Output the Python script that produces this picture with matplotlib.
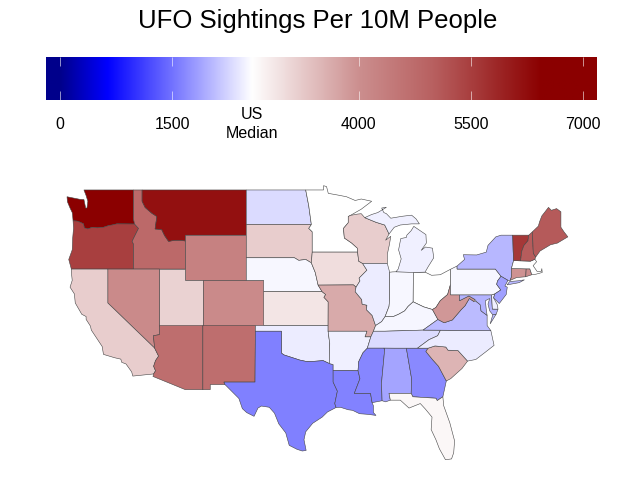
import numpy as np
import matplotlib
matplotlib.use('Agg')
import matplotlib.pyplot as plt
from matplotlib.colors import LinearSegmentedColormap, Normalize
from matplotlib.patches import Polygon

plt.rcParams['font.family'] = ['Liberation Sans', 'DejaVu Sans']

TICK_VALUES = [0, 1500, 4000, 5500, 7000]
TICK_LABELS = ['0', '1500', '4000', '5500', '7000']
US_MEDIAN = 2570
BAR_MIN, BAR_MAX = -187, 7190

# sightings per 10M people
VALUES = {
    'WA': 6600, 'OR': 5500, 'ID': 4800, 'MT': 6200, 'WY': 4300, 'CA': 3200, 'NV': 4100,
    'UT': 3150, 'CO': 4100, 'AZ': 4700, 'NM': 4700, 'ND': 2300, 'SD': 3200, 'NE': 2520,
    'KS': 2900, 'OK': 2430, 'TX': 1600, 'MN': 2570, 'IA': 3000, 'MO': 3650, 'AR': 2450,
    'LA': 1620, 'WI': 3200, 'IL': 2430, 'MI': 2450, 'IN': 2520, 'OH': 2570, 'KY': 2500,
    'TN': 2300, 'MS': 1650, 'AL': 1880, 'GA': 1680, 'FL': 2680, 'SC': 3530, 'NC': 2430,
    'VA': 2050, 'WV': 3900, 'PA': 2520, 'NY': 2020, 'VT': 5600, 'NH': 5050, 'ME': 5100,
    'MA': 2570, 'CT': 3950, 'RI': 4050, 'NJ': 1850, 'DE': 2450, 'MD': 2000,
}

# state outlines in lon/lat
OUTLINES = {
    'WA': [[(-124.7,48.4),(-123.2,48.17),(-122.75,48.15),(-122.55,47.4),(-122.4,47.4),(-122.3,48.0),(-122.5,48.5),(-122.75,49),(-117.03,49),(-117.04,46.42),(-116.92,45.99),(-118.98,46.0),(-119.3,45.93),(-119.9,45.85),(-120.5,45.7),(-121.2,45.65),(-121.8,45.7),(-122.3,45.55),(-122.7,45.65),(-122.8,46.0),(-123.2,46.15),(-123.55,46.25),(-124.0,46.27),(-124.05,46.7),(-124.1,47.0),(-124.35,47.4),(-124.65,47.95)]],
    'OR': [[(-124.0,46.27),(-123.55,46.25),(-123.2,46.15),(-122.8,46.0),(-122.7,45.65),(-122.3,45.55),(-121.8,45.7),(-121.2,45.65),(-120.5,45.7),(-119.9,45.85),(-119.3,45.93),(-118.98,46.0),(-116.92,45.99),(-116.7,45.8),(-116.46,45.6),(-116.85,45.0),(-117.2,44.45),(-117.03,44.2),(-117.03,42.0),(-124.2,42.0),(-124.5,42.85),(-124.1,43.7),(-124.05,44.7),(-123.95,45.6)]],
    'ID': [[(-117.03,49),(-116.05,49),(-116.05,48.0),(-115.7,47.45),(-114.95,46.95),(-114.35,46.65),(-114.55,45.55),(-113.8,45.5),(-113.45,44.95),(-113.0,44.45),(-112.3,44.55),(-111.5,44.55),(-111.05,44.48),(-111.05,42.0),(-117.03,42.0),(-117.03,44.2),(-117.2,44.45),(-116.85,45.0),(-116.46,45.6),(-116.7,45.8),(-116.92,45.99),(-117.04,46.42)]],
    'MT': [[(-116.05,49),(-104.05,49),(-104.05,45),(-111.05,45),(-111.05,44.48),(-111.5,44.55),(-112.3,44.55),(-113.0,44.45),(-113.45,44.95),(-113.8,45.5),(-114.55,45.55),(-114.35,46.65),(-114.95,46.95),(-115.7,47.45),(-116.05,48.0)]],
    'WY': [[(-111.05,45),(-104.05,45),(-104.05,41),(-111.05,41)]],
    'UT': [[(-114.05,42),(-111.05,42),(-111.05,41),(-109.05,41),(-109.05,37),(-114.05,37)]],
    'CO': [[(-109.05,41),(-102.05,41),(-102.05,37),(-109.05,37)]],
    'NV': [[(-120,42),(-114.05,42),(-114.05,36.2),(-114.75,36.1),(-114.6,35.0),(-120,39)]],
    'CA': [[(-124.2,42),(-120,42),(-120,39),(-114.6,35.0),(-114.15,34.3),(-114.5,33.9),(-114.72,33.4),(-114.5,33.0),(-114.72,32.72),(-117.12,32.53),(-117.25,32.9),(-117.9,33.6),(-118.4,33.75),(-118.5,34.03),(-119.2,34.15),(-120.5,34.45),(-120.65,35.15),(-121.9,36.6),(-122.0,36.95),(-122.5,37.55),(-122.5,37.8),(-123.0,38.0),(-123.75,39.0),(-123.85,39.8),(-124.35,40.4),(-124.1,41.0),(-124.2,41.75)]],
    'AZ': [[(-114.05,37),(-109.05,37),(-109.05,31.33),(-111.07,31.33),(-114.8,32.5),(-114.72,32.72),(-114.5,33.0),(-114.72,33.4),(-114.5,33.9),(-114.15,34.3),(-114.6,35.0),(-114.75,36.1),(-114.05,36.2)]],
    'NM': [[(-109.05,37),(-103,37),(-103.04,32),(-106.62,32),(-106.5,31.78),(-108.2,31.78),(-108.2,31.33),(-109.05,31.33)]],
    'ND': [[(-104.05,49),(-97.2,49),(-96.85,47.6),(-96.55,45.94),(-104.05,45.94)]],
    'SD': [[(-104.05,45.94),(-96.55,45.94),(-96.85,45.6),(-96.45,45.3),(-96.45,43.5),(-96.55,42.55),(-97.2,42.85),(-98.0,42.77),(-98.5,43.0),(-104.05,43)]],
    'NE': [[(-104.05,43),(-98.5,43),(-98,42.77),(-97.2,42.85),(-96.55,42.55),(-96.1,41.7),(-95.77,40.58),(-95.31,40),(-102.05,40),(-102.05,41),(-104.05,41)]],
    'KS': [[(-102.05,40),(-95.31,40),(-94.9,39.75),(-95.1,39.5),(-94.61,39.1),(-94.62,37),(-102.05,37)]],
    'OK': [[(-103,37),(-94.62,37),(-94.62,36.5),(-94.43,35.4),(-94.48,33.64),(-95.2,33.9),(-96.0,33.85),(-97.0,33.8),(-97.9,33.95),(-98.9,34.2),(-99.7,34.4),(-100,34.56),(-100,36.5),(-103,36.5)]],
    'TX': [[(-103,36.5),(-100,36.5),(-100,34.56),(-99.7,34.4),(-98.9,34.2),(-97.9,33.95),(-97,33.8),(-96,33.85),(-95.2,33.9),(-94.48,33.64),(-94.04,33.55),(-94.04,32.0),(-93.55,31.2),(-93.85,30.1),(-93.7,29.75),(-94.7,29.35),(-95.3,28.9),(-96.4,28.35),(-97.2,27.6),(-97.4,26.9),(-97.15,25.95),(-97.6,25.9),(-98.2,26.05),(-99.1,26.4),(-99.5,27.5),(-100.3,28.3),(-100.8,29.25),(-101.4,29.77),(-102.3,29.88),(-102.7,29.7),(-103.15,28.97),(-104.0,29.3),(-104.5,29.65),(-104.9,30.55),(-106.5,31.78),(-106.62,32),(-103.04,32)]],
    'MN': [[(-97.2,49),(-95.15,49),(-95.15,49.38),(-94.8,49.3),(-94.6,48.7),(-93.5,48.55),(-92.5,48.4),(-91.5,48.07),(-90.8,48.2),(-89.6,48.0),(-90.8,47.3),(-92.05,46.75),(-92.3,46.65),(-92.3,46.1),(-92.85,45.6),(-92.75,44.75),(-91.9,44.3),(-91.25,43.85),(-91.22,43.5),(-96.45,43.5),(-96.45,45.3),(-96.85,45.6),(-96.55,45.94),(-96.85,47.6)]],
    'IA': [[(-96.45,43.5),(-91.22,43.5),(-91.1,42.7),(-90.65,42.5),(-90.15,41.9),(-91.05,41.2),(-90.95,40.95),(-91.4,40.4),(-91.7,40.6),(-95.77,40.58),(-96.1,41.7),(-96.55,42.55)]],
    'MO': [[(-95.77,40.58),(-91.7,40.6),(-91.4,40.4),(-91.5,40.0),(-90.75,39.3),(-90.7,38.9),(-90.15,38.8),(-90.2,38.4),(-89.55,37.9),(-89.15,37.0),(-89.4,36.5),(-89.7,36.0),(-90.37,36.0),(-90.15,36.5),(-94.62,36.5),(-94.62,37),(-94.61,39.1),(-95.1,39.5),(-94.9,39.75),(-95.31,40)]],
    'AR': [[(-94.62,36.5),(-90.15,36.5),(-90.37,36),(-89.7,36),(-90.1,35),(-90.6,34.6),(-91.1,33.8),(-91.17,33.0),(-94.04,33.02),(-94.04,33.55),(-94.48,33.64),(-94.43,35.4)]],
    'LA': [[(-94.04,33.02),(-91.17,33),(-90.95,32.3),(-91.6,31.0),(-89.73,31),(-89.55,30.18),(-89.4,29.9),(-89.4,29.3),(-89.1,29.05),(-90.1,29.15),(-91.0,29.2),(-91.8,29.5),(-92.3,29.55),(-93.2,29.77),(-93.7,29.75),(-93.85,30.1),(-93.55,31.2),(-94.04,32)]],
    'WI': [[(-92.05,46.75),(-91.2,46.87),(-90.8,46.9),(-90.4,46.55),(-89.1,46.14),(-88.1,45.9),(-87.75,45.35),(-87.6,45.1),(-88.0,44.55),(-87.4,44.9),(-87.55,44.2),(-87.8,43.3),(-87.8,42.5),(-90.65,42.5),(-91.1,42.7),(-91.22,43.5),(-91.25,43.85),(-91.9,44.3),(-92.75,44.75),(-92.85,45.6),(-92.3,46.1),(-92.3,46.65)]],
    'IL': [[(-90.65,42.5),(-87.8,42.5),(-87.53,41.72),(-87.53,39.35),(-87.6,38.7),(-88.05,37.8),(-88.45,37.35),(-89.15,37.0),(-89.55,37.9),(-90.2,38.4),(-90.15,38.8),(-90.7,38.9),(-90.75,39.3),(-91.5,40),(-91.4,40.4),(-90.95,40.95),(-91.05,41.2),(-90.15,41.9)]],
    'IN': [[(-87.53,41.72),(-87.2,41.75),(-86.8,41.76),(-84.8,41.76),(-84.82,39.1),(-85.4,38.7),(-85.8,38.3),(-86.5,38.0),(-87.1,37.8),(-88.05,37.8),(-87.6,38.7),(-87.53,39.35)]],
    'OH': [[(-84.8,41.7),(-83.45,41.73),(-82.7,41.45),(-81.7,41.5),(-80.52,41.98),(-80.52,40.64),(-80.85,39.75),(-81.7,39.2),(-82.2,38.6),(-82.6,38.42),(-83.6,38.65),(-84.82,39.1)]],
    'KY': [[(-89.15,37),(-88.45,37.35),(-88.05,37.8),(-87.1,37.8),(-86.5,38),(-85.8,38.3),(-85.4,38.7),(-84.82,39.1),(-83.6,38.65),(-82.6,38.42),(-81.97,37.54),(-83.68,36.6),(-88.05,36.5),(-89.4,36.5)]],
    'TN': [[(-89.4,36.5),(-88.05,36.5),(-83.68,36.6),(-81.68,36.59),(-82,36.1),(-83.0,35.75),(-84.32,35),(-90.1,35),(-89.7,36)]],
    'MS': [[(-90.1,35),(-88.2,35),(-88.1,34.9),(-88.47,31.9),(-88.4,30.35),(-89.55,30.18),(-89.73,31),(-91.6,31),(-90.95,32.3),(-91.17,33),(-91.1,33.8),(-90.6,34.6)]],
    'AL': [[(-88.2,35),(-85.6,34.98),(-85.0,32.3),(-85.05,31.0),(-87.6,31),(-87.45,30.4),(-88.0,30.25),(-88.4,30.35),(-88.47,31.9),(-88.1,34.9)]],
    'GA': [[(-85.6,34.98),(-83.1,35),(-83.35,34.7),(-82.6,34.0),(-81.9,33.4),(-81.0,32.1),(-81.4,30.7),(-82.05,30.36),(-82.2,30.57),(-84.86,30.7),(-85.05,31),(-85.0,32.3)]],
    'FL': [[(-87.6,31),(-85.05,31),(-84.86,30.7),(-82.2,30.57),(-82.05,30.36),(-81.4,30.7),(-81.3,29.9),(-80.6,28.4),(-80.05,26.8),(-80.15,25.75),(-80.4,25.2),(-81.1,25.13),(-81.8,26.1),(-82.2,26.9),(-82.75,27.8),(-82.65,28.9),(-83.4,29.6),(-84.0,30.1),(-85.3,29.7),(-86.3,30.4),(-87.45,30.4)]],
    'SC': [[(-83.1,35),(-82.3,35.2),(-81.05,35.1),(-80.8,34.82),(-79.67,34.8),(-78.55,33.86),(-79.2,33.2),(-80.5,32.3),(-81.0,32.1),(-81.9,33.4),(-82.6,34),(-83.35,34.7)]],
    'NC': [[(-84.32,35),(-83,35.75),(-82,36.1),(-81.68,36.59),(-75.87,36.55),(-75.5,35.25),(-76.5,34.65),(-77.6,34.0),(-78.55,33.86),(-79.67,34.8),(-80.8,34.82),(-81.05,35.1),(-82.3,35.2),(-83.1,35)]],
    'VA': [[(-83.68,36.6),(-81.68,36.59),(-75.87,36.55),(-76.3,37.0),(-76.3,37.9),(-77.0,38.3),(-77.1,38.85),(-77.5,39.1),(-77.83,39.13),(-78.35,39.4),(-78.85,38.75),(-79.3,38.4),(-80.3,37.5),(-81.25,37.25),(-81.97,37.54)],
           [(-75.95,37.15),(-75.25,38.02),(-75.65,37.95)]],
    'WV': [[(-81.97,37.54),(-82.6,38.42),(-82.2,38.6),(-81.7,39.2),(-80.85,39.75),(-80.52,40.64),(-80.52,39.72),(-79.48,39.72),(-79.48,39.2),(-78.4,39.62),(-77.72,39.32),(-77.83,39.13),(-78.35,39.4),(-78.85,38.75),(-79.3,38.4),(-80.3,37.5),(-81.25,37.25)]],
    'MD': [[(-79.48,39.72),(-75.79,39.72),(-75.7,38.46),(-75.05,38.45),(-75.25,38.02),(-75.65,37.95),(-76.0,38.3),(-76.2,38.9),(-76.0,39.4),(-76.5,39.2),(-76.4,38.4),(-76.3,37.9),(-77,38.3),(-77.1,38.85),(-77.5,39.1),(-77.72,39.32),(-78.4,39.62),(-79.48,39.2)]],
    'DE': [[(-75.79,39.72),(-75.42,39.8),(-75.55,39.45),(-75.1,38.8),(-75.05,38.45),(-75.7,38.46)]],
    'PA': [[(-80.52,41.98),(-79.76,42.27),(-79.76,42),(-75.35,42),(-74.7,41.36),(-75.1,40.95),(-75.2,40.65),(-74.72,40.15),(-75.42,39.8),(-75.79,39.72),(-80.52,39.72)]],
    'NY': [[(-79.76,42.27),(-78.9,42.85),(-79.05,43.27),(-77.5,43.25),(-76.4,43.5),(-76.2,44.1),(-75.3,44.85),(-74.7,45),(-73.35,45),(-73.3,43.6),(-73.25,42.75),(-73.5,42.05),(-73.5,41.3),(-73.65,41.0),(-73.9,41.0),(-74.7,41.36),(-75.35,42),(-79.76,42)],
           [(-74.0,40.6),(-73.7,40.9),(-72.6,40.97),(-72.0,41.05),(-72.6,40.8)]],
    'NJ': [[(-74.7,41.36),(-73.9,41.0),(-74.25,40.5),(-73.98,40.4),(-74.1,39.75),(-74.9,38.95),(-75.55,39.45),(-75.42,39.8),(-74.72,40.15),(-75.2,40.65),(-75.1,40.95)]],
    'CT': [[(-73.5,42.05),(-71.8,42.02),(-71.85,41.32),(-72.9,41.25),(-73.65,41.0),(-73.5,41.3)]],
    'RI': [[(-71.8,42.02),(-71.38,42.02),(-71.15,41.5),(-71.85,41.32)]],
    'MA': [[(-73.5,42.05),(-73.25,42.75),(-71.3,42.7),(-70.8,42.87),(-70.6,42.65),(-71.0,42.3),(-70.55,41.8),(-70.05,41.8),(-70.0,42.05),(-69.95,41.7),(-70.65,41.55),(-71.15,41.5),(-71.38,42.02),(-71.8,42.02)]],
    'VT': [[(-73.35,45),(-71.5,45),(-71.6,44.5),(-72.05,44.1),(-72.3,43.6),(-72.45,42.73),(-73.25,42.75),(-73.3,43.6)]],
    'NH': [[(-71.5,45),(-71.08,45.3),(-70.98,43.4),(-70.7,43.07),(-70.8,42.87),(-71.3,42.7),(-72.45,42.73),(-72.3,43.6),(-72.05,44.1),(-71.6,44.5)]],
    'ME': [[(-71.08,45.3),(-70.4,45.8),(-70.25,46.2),(-70,46.7),(-69.23,47.46),(-68.9,47.2),(-68.3,47.35),(-67.8,47.07),(-67.8,45.7),(-67.45,45.3),(-67,44.85),(-68.2,44.3),(-69.0,44.15),(-70.2,43.6),(-70.7,43.07),(-70.98,43.4)]],
    'MI': [[(-86.8,41.76),(-84.8,41.7),(-83.45,41.73),(-83.1,42.2),(-82.45,43.0),(-82.6,43.85),(-83.4,43.95),(-83.9,43.65),(-83.3,44.3),(-83.35,45.05),(-84.75,45.78),(-85.05,45.4),(-85.55,45.0),(-85.6,44.8),(-86.25,44.7),(-86.5,43.7),(-86.2,42.9),(-86.55,42.0)],
           [(-90.4,46.55),(-89.1,46.14),(-88.1,45.9),(-87.75,45.35),(-87.6,45.1),(-87,45.7),(-86.3,45.9),(-85,46.0),(-84.7,46.0),(-84.1,46.0),(-84.5,46.45),(-85,46.77),(-86.1,46.67),(-87.4,46.5),(-87.9,46.9),(-88.2,47.0),(-88.45,47.4),(-87.9,47.47),(-88.9,47.0),(-89.6,46.83)]],
}

norm = Normalize(BAR_MIN, BAR_MAX)
stops = [(BAR_MIN, '#00008b'), (0, '#00008b'), (630, '#0000ff'), (US_MEDIAN, '#ffffff'),
         (4000, '#cc8f8f'), (5000, '#b86060'), (6450, '#8b0000'), (BAR_MAX, '#8b0000')]
cmap = LinearSegmentedColormap.from_list('ufo', [(norm(v), c) for v, c in stops], N=512)

fig = plt.figure(figsize=(6.3, 4.9), dpi=100)

# map fills the whole figure, limits chosen so lon/lat land where they do in the original
ax = fig.add_axes([0, 0, 1, 1])
for state, parts in OUTLINES.items():
    for part in parts:
        ax.add_patch(Polygon(part, closed=True, facecolor=cmap(norm(VALUES[state])),
                             edgecolor='#444444', linewidth=0.4))
ax.set_xlim(-132.42, -59.84)
ax.set_ylim(22.45, 65.81)
ax.axis('off')

fig.text(318 / 630, 1 - 21 / 490, 'UFO Sightings Per 10M People', ha='center', va='center', fontsize=18.5)

# colour bar
cax = fig.add_axes([46 / 630, 1 - 100 / 490, 551 / 630, 43 / 490])
cax.imshow(np.linspace(BAR_MIN, BAR_MAX, 512)[None, :], aspect='auto', cmap=cmap, norm=norm,
           extent=[BAR_MIN, BAR_MAX, 0, 1])
cax.vlines(TICK_VALUES, 0, 0.2, color='white', linewidth=0.5, alpha=0.8)
cax.vlines(TICK_VALUES, 0.8, 1, color='white', linewidth=0.5, alpha=0.8)
cax.set_xlim(BAR_MIN, BAR_MAX)
cax.set_ylim(0, 1)
cax.set_yticks([])
cax.set_xticks([])
for val, lab in zip(TICK_VALUES, TICK_LABELS):
    cax.text(val, -0.56, lab, ha='center', va='center', fontsize=11.5, clip_on=False)
cax.text(US_MEDIAN, -0.56, 'US\nMedian', ha='center', va='center', fontsize=11.5,
         linespacing=1.3, clip_on=False)
for spine in cax.spines.values():
    spine.set_visible(False)

fig.savefig('out.png', dpi=100)
